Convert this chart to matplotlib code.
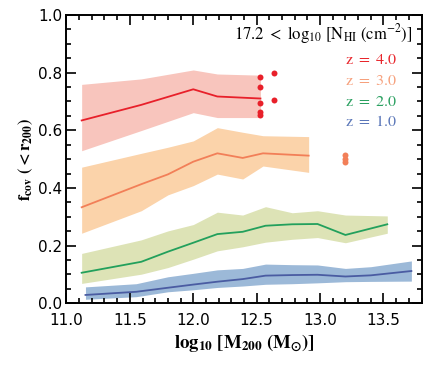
import matplotlib
matplotlib.use("Agg")
import matplotlib.pyplot as plt
from matplotlib.ticker import MultipleLocator, FormatStrFormatter

plt.rcParams['mathtext.fontset'] = 'stix'
plt.rcParams['font.family'] = ['DejaVu Sans']

# z = 4.0
x_z4 = [11.12, 11.59, 12.0, 12.19, 12.53]
mid_z4 = [0.634, 0.688, 0.742, 0.717, 0.710]
hi_z4 = [0.759, 0.778, 0.809, 0.795, 0.791]
lo_z4 = [0.529, 0.599, 0.661, 0.644, 0.644]
dots_z4_x = [12.53, 12.53, 12.53, 12.53, 12.53, 12.64, 12.64]
dots_z4_y = [0.784, 0.751, 0.696, 0.664, 0.653, 0.798, 0.704]

# z = 3.0
x_z3 = [11.12, 11.59, 11.8, 12.0, 12.19, 12.39, 12.55, 12.91]
mid_z3 = [0.333, 0.413, 0.447, 0.491, 0.520, 0.504, 0.520, 0.512]
hi_z3 = [0.472, 0.520, 0.541, 0.563, 0.609, 0.593, 0.581, 0.578]
lo_z3 = [0.243, 0.321, 0.376, 0.408, 0.448, 0.431, 0.476, 0.454]
dots_z3_x = [13.20, 13.20, 13.20]
dots_z3_y = [0.514, 0.499, 0.489]

# z = 2.0
x_z2 = [11.12, 11.59, 11.8, 12.0, 12.19, 12.39, 12.57, 12.78, 12.98, 13.2, 13.53]
mid_z2 = [0.106, 0.144, 0.179, 0.210, 0.240, 0.248, 0.269, 0.274, 0.275, 0.237, 0.274]
hi_z2 = [0.173, 0.220, 0.251, 0.273, 0.316, 0.306, 0.335, 0.314, 0.321, 0.306, 0.303]
lo_z2 = [0.069, 0.101, 0.124, 0.153, 0.182, 0.196, 0.212, 0.222, 0.228, 0.210, 0.243]

# z = 1.0
x_z1 = [11.15, 11.55, 11.8, 12.0, 12.19, 12.39, 12.57, 12.78, 12.98, 13.2, 13.4, 13.72]
mid_z1 = [0.029, 0.040, 0.054, 0.065, 0.075, 0.084, 0.096, 0.098, 0.099, 0.093, 0.097, 0.112]
hi_z1 = [0.057, 0.068, 0.092, 0.104, 0.116, 0.121, 0.136, 0.134, 0.133, 0.121, 0.127, 0.147]
lo_z1 = [0.014, 0.023, 0.040, 0.047, 0.055, 0.060, 0.066, 0.068, 0.071, 0.075, 0.076, 0.077]

legend_labels = ['z = 4.0', 'z = 3.0', 'z = 2.0', 'z = 1.0']
line_colors = ['#e8202a', '#f27f58', '#22a05c', '#4a5ca2']
fill_colors = ['#f8c5bd', '#fbd3aa', '#dde3b6', '#9cb9d8']
text_colors = ['#e8262c', '#f6a07c', '#2aa060', '#5a76b8']

fig = plt.figure(figsize=(4.4, 3.67), dpi=100)
ax = fig.add_axes([0.151, 0.1735, 0.807, 0.786])

series = [(x_z4, mid_z4, hi_z4, lo_z4), (x_z3, mid_z3, hi_z3, lo_z3),
          (x_z2, mid_z2, hi_z2, lo_z2), (x_z1, mid_z1, hi_z1, lo_z1)]
for (xs, m, h, l), lc, fc in zip(series, line_colors, fill_colors):
    ax.fill_between(xs, l, h, color=fc, lw=0, zorder=1)
    ax.plot(xs, m, color=lc, lw=1.3, zorder=2)

ax.plot(dots_z4_x, dots_z4_y, 'o', color=line_colors[0], ms=4.3, mec='none', zorder=3)
ax.plot(dots_z3_x, dots_z3_y, 'o', color=line_colors[1], ms=4.3, mec='none', zorder=3)

ax.set_xlim(11.0, 13.8)
ax.set_ylim(0.0, 1.0)
ax.xaxis.set_major_locator(MultipleLocator(0.5))
ax.xaxis.set_minor_locator(MultipleLocator(0.1))
ax.yaxis.set_major_locator(MultipleLocator(0.2))
ax.yaxis.set_minor_locator(MultipleLocator(0.05))
ax.xaxis.set_major_formatter(FormatStrFormatter('%.1f'))
ax.yaxis.set_major_formatter(FormatStrFormatter('%.1f'))
ax.tick_params(which='both', direction='in', top=True, right=True, width=1.2,
               labelsize=11, colors='black')
ax.tick_params(which='major', length=7)
ax.tick_params(which='minor', length=3.5)
ax.tick_params(axis='x', pad=7)
ax.tick_params(axis='y', pad=3)
for s in ax.spines.values():
    s.set_linewidth(1.4)

ax.set_xlabel(r'$\mathbf{log_{10}\ [M_{200}\ (M_{\odot})]}$', fontsize=13.5, labelpad=3)
ax.set_ylabel(r'$\mathbf{f_{cov}\ (<r_{200})}$', fontsize=12, labelpad=2)

ax.text(0.975, 0.935, r'$\mathrm{17.2\ <\ log_{10}\ [N_{HI}\ (cm^{-2})]}$',
        transform=ax.transAxes, ha='right', va='center', fontsize=12)
for i, (lab, tc) in enumerate(zip(legend_labels, text_colors)):
    ax.text(0.93, 0.845 - i * 0.072, r'$\mathrm{' + lab.replace(' ', r'\ ') + '}$',
            transform=ax.transAxes, ha='right', va='center', fontsize=11.5, color=tc)

fig.savefig('out.png', dpi=100)
